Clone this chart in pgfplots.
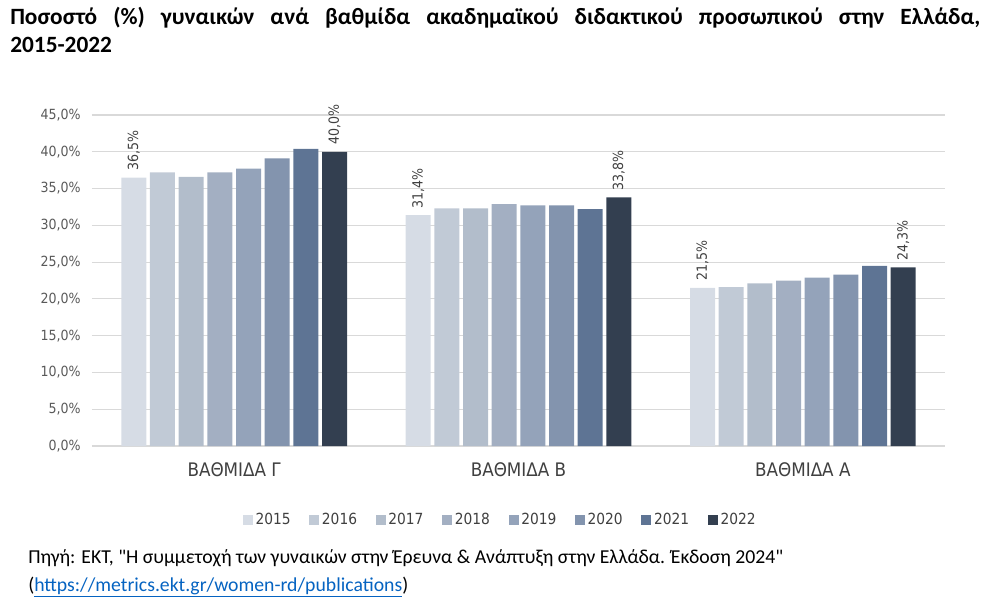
\documentclass[border=0pt]{standalone}
\usepackage{fontspec}
\setmainfont{Carlito}
\newfontfamily\footfont{Carlito}
\newfontfamily\chartfont{DejaVu Sans Condensed}
\usepackage{pgfplots}
\pgfplotsset{compat=1.18}
\definecolor{c2015}{HTML}{D6DCE5}
\definecolor{c2016}{HTML}{C1CAD6}
\definecolor{c2017}{HTML}{B2BDCB}
\definecolor{c2018}{HTML}{A3AFC2}
\definecolor{c2019}{HTML}{94A3BA}
\definecolor{c2020}{HTML}{8394AE}
\definecolor{c2021}{HTML}{5E7494}
\definecolor{c2022}{HTML}{333F50}
\definecolor{gridc}{HTML}{D9D9D9}
\definecolor{labc}{HTML}{595959}
\definecolor{catc}{HTML}{404040}
\definecolor{linkc}{HTML}{0563C1}
\begin{document}
\begin{tikzpicture}
\path[use as bounding box] (0,0) rectangle (744.75pt,-459.75pt);
\node[anchor=north west, text width=727.5pt, align=justify, inner sep=0pt,
  font=\bfseries\fontsize{17.5}{20.5}\selectfont] at (7.5pt,-5.5pt)
  {Ποσοστό (\%) γυναικών ανά βαθμίδα ακαδημαϊκού διδακτικού προσωπικού στην Ελλάδα,\linebreak 2015-2022};
\begin{axis}[
  at={(69pt,-334.5pt)}, anchor=south west,
  width=639.75pt, height=248.25pt, scale only axis,
  clip=false,
  xmin=-0.5, xmax=2.5, ymin=0, ymax=45,
  ytick={0,5,...,45},
  xtick={0,1,2},
  xticklabels={ΒΑΘΜΙΔΑ Γ, ΒΑΘΜΙΔΑ Β, ΒΑΘΜΙΔΑ Α},
  ymajorgrids, grid style={gridc, line width=0.8pt},
  axis line style={draw=none},
  major tick length=0pt,
  /pgf/number format/assume math mode=true,
  yticklabel={\pgfmathprintnumber[use comma,fixed,fixed zerofill,precision=1]{\tick}\%},
  yticklabel style={font=\chartfont\fontsize{10.5}{12}\selectfont, color=labc, xshift=-5pt},
  xticklabel style={font=\chartfont\fontsize{14}{16}\selectfont, color=catc, yshift=-9pt},
  ybar=2.75pt, bar width=18.75pt,
  legend columns=8,
  legend style={at={(0.479,-0.2236)}, anchor=center, draw=none, fill=none,
    font=\chartfont\fontsize{11.5}{13}\selectfont, text=catc,
    /tikz/every even column/.append style={column sep=12pt}},
  legend image code/.code={\fill[#1,draw=none] (0pt,-3.75pt) rectangle (7.5pt,3.75pt);},
]
\addplot[fill=c2015, draw=none, nodes near coords={\pgfmathprintnumber[use comma,fixed,fixed zerofill,precision=1]{\pgfplotspointmeta}\%},
  every node near coord/.append style={rotate=90, anchor=west, font=\chartfont\fontsize{10.5}{12}\selectfont, color=catc, inner sep=5pt}]
  coordinates {(0,36.5) (1,31.4) (2,21.5)};
\addplot[fill=c2016, draw=none] coordinates {(0,37.2) (1,32.3) (2,21.6)};
\addplot[fill=c2017, draw=none] coordinates {(0,36.6) (1,32.3) (2,22.1)};
\addplot[fill=c2018, draw=none] coordinates {(0,37.2) (1,32.9) (2,22.5)};
\addplot[fill=c2019, draw=none] coordinates {(0,37.7) (1,32.7) (2,22.9)};
\addplot[fill=c2020, draw=none] coordinates {(0,39.1) (1,32.7) (2,23.3)};
\addplot[fill=c2021, draw=none] coordinates {(0,40.4) (1,32.2) (2,24.5)};
\addplot[fill=c2022, draw=none, nodes near coords={\pgfmathprintnumber[use comma,fixed,fixed zerofill,precision=1]{\pgfplotspointmeta}\%},
  every node near coord/.append style={rotate=90, anchor=west, font=\chartfont\fontsize{10.5}{12}\selectfont, color=catc, inner sep=5pt}]
  coordinates {(0,40.0) (1,33.8) (2,24.3)};
\legend{2015,2016,2017,2018,2019,2020,2021,2022}
\end{axis}
\node[anchor=base west, inner sep=0pt, font=\footfont\fontsize{14.8}{17}\selectfont] at (21pt,-422.25pt)
  {Πηγή: ΕΚΤ, "Η συμμετοχή των γυναικών στην Έρευνα \& Ανάπτυξη στην Ελλάδα. Έκδοση 2024"};
\node[anchor=base west, inner sep=0pt, font=\footfont\fontsize{14.8}{17}\selectfont] at (21pt,-443.25pt)
  {(\textcolor{linkc}{\underline{https://metrics.ekt.gr/women-rd/publications}})};
\end{tikzpicture}
\end{document}
